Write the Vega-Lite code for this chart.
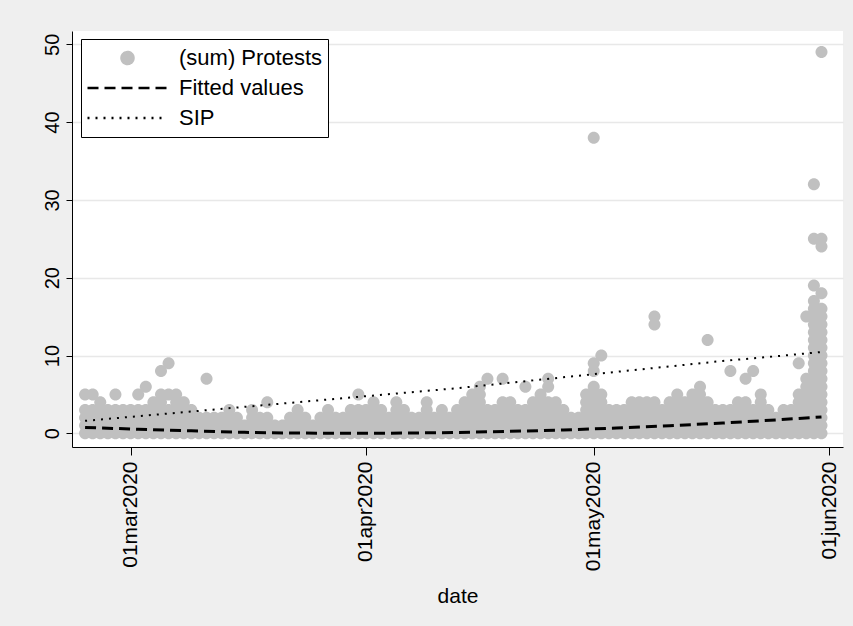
{
  "$schema": "https://vega.github.io/schema/vega-lite/v6.json",
  "autosize": {"type": "none"},
  "width": 771,
  "height": 416,
  "padding": {"left": 72, "top": 31, "right": 10, "bottom": 179},
  "background": "#efefef",
  "config": {
    "view": {"fill": "white", "stroke": null},
    "font": "Liberation Sans",
    "axis": {
      "domainColor": "black", "domainWidth": 1,
      "tickColor": "black", "tickWidth": 1,
      "labelColor": "black", "titleColor": "black",
      "labelFont": "Liberation Sans", "titleFont": "Liberation Sans",
      "labelFontSize": 20, "titleFontSize": 21, "titleFontWeight": "normal"
    }
  },
  "datasets": {
    "protests": [
      {"d":"2020-02-24","p":0},{"d":"2020-02-24","p":1},{"d":"2020-02-24","p":2},{"d":"2020-02-24","p":3},{"d":"2020-02-24","p":5},
      {"d":"2020-02-25","p":0},{"d":"2020-02-25","p":1},{"d":"2020-02-25","p":2},{"d":"2020-02-25","p":3},{"d":"2020-02-25","p":5},
      {"d":"2020-02-26","p":0},{"d":"2020-02-26","p":1},{"d":"2020-02-26","p":2},{"d":"2020-02-26","p":3},{"d":"2020-02-26","p":4},
      {"d":"2020-02-27","p":0},{"d":"2020-02-27","p":1},{"d":"2020-02-27","p":2},{"d":"2020-02-27","p":3},
      {"d":"2020-02-28","p":0},{"d":"2020-02-28","p":1},{"d":"2020-02-28","p":2},{"d":"2020-02-28","p":3},{"d":"2020-02-28","p":5},
      {"d":"2020-02-29","p":0},{"d":"2020-02-29","p":1},{"d":"2020-02-29","p":2},{"d":"2020-02-29","p":3},
      {"d":"2020-03-01","p":0},{"d":"2020-03-01","p":1},{"d":"2020-03-01","p":2},{"d":"2020-03-01","p":3},
      {"d":"2020-03-02","p":0},{"d":"2020-03-02","p":1},{"d":"2020-03-02","p":2},{"d":"2020-03-02","p":3},{"d":"2020-03-02","p":5},
      {"d":"2020-03-03","p":0},{"d":"2020-03-03","p":1},{"d":"2020-03-03","p":2},{"d":"2020-03-03","p":3},{"d":"2020-03-03","p":6},
      {"d":"2020-03-04","p":0},{"d":"2020-03-04","p":1},{"d":"2020-03-04","p":2},{"d":"2020-03-04","p":3},{"d":"2020-03-04","p":4},
      {"d":"2020-03-05","p":0},{"d":"2020-03-05","p":1},{"d":"2020-03-05","p":2},{"d":"2020-03-05","p":3},{"d":"2020-03-05","p":4},{"d":"2020-03-05","p":5},{"d":"2020-03-05","p":8},
      {"d":"2020-03-06","p":0},{"d":"2020-03-06","p":1},{"d":"2020-03-06","p":2},{"d":"2020-03-06","p":3},{"d":"2020-03-06","p":5},{"d":"2020-03-06","p":9},
      {"d":"2020-03-07","p":0},{"d":"2020-03-07","p":1},{"d":"2020-03-07","p":2},{"d":"2020-03-07","p":3},{"d":"2020-03-07","p":4},{"d":"2020-03-07","p":5},
      {"d":"2020-03-08","p":0},{"d":"2020-03-08","p":1},{"d":"2020-03-08","p":2},{"d":"2020-03-08","p":3},{"d":"2020-03-08","p":4},
      {"d":"2020-03-09","p":0},{"d":"2020-03-09","p":1},{"d":"2020-03-09","p":2},{"d":"2020-03-09","p":3},
      {"d":"2020-03-10","p":0},{"d":"2020-03-10","p":1},{"d":"2020-03-10","p":2},
      {"d":"2020-03-11","p":0},{"d":"2020-03-11","p":1},{"d":"2020-03-11","p":2},{"d":"2020-03-11","p":7},
      {"d":"2020-03-12","p":0},{"d":"2020-03-12","p":1},{"d":"2020-03-12","p":2},
      {"d":"2020-03-13","p":0},{"d":"2020-03-13","p":1},{"d":"2020-03-13","p":2},
      {"d":"2020-03-14","p":0},{"d":"2020-03-14","p":1},{"d":"2020-03-14","p":2},{"d":"2020-03-14","p":3},
      {"d":"2020-03-15","p":0},{"d":"2020-03-15","p":1},{"d":"2020-03-15","p":2},
      {"d":"2020-03-16","p":0},{"d":"2020-03-16","p":1},
      {"d":"2020-03-17","p":0},{"d":"2020-03-17","p":1},{"d":"2020-03-17","p":2},{"d":"2020-03-17","p":3},
      {"d":"2020-03-18","p":0},{"d":"2020-03-18","p":1},{"d":"2020-03-18","p":2},
      {"d":"2020-03-19","p":0},{"d":"2020-03-19","p":1},{"d":"2020-03-19","p":2},{"d":"2020-03-19","p":4},
      {"d":"2020-03-20","p":0},{"d":"2020-03-20","p":1},
      {"d":"2020-03-21","p":0},{"d":"2020-03-21","p":1},
      {"d":"2020-03-22","p":0},{"d":"2020-03-22","p":1},{"d":"2020-03-22","p":2},
      {"d":"2020-03-23","p":0},{"d":"2020-03-23","p":1},{"d":"2020-03-23","p":2},{"d":"2020-03-23","p":3},
      {"d":"2020-03-24","p":0},{"d":"2020-03-24","p":1},{"d":"2020-03-24","p":2},
      {"d":"2020-03-25","p":0},{"d":"2020-03-25","p":1},
      {"d":"2020-03-26","p":0},{"d":"2020-03-26","p":1},{"d":"2020-03-26","p":2},
      {"d":"2020-03-27","p":0},{"d":"2020-03-27","p":1},{"d":"2020-03-27","p":2},{"d":"2020-03-27","p":3},
      {"d":"2020-03-28","p":0},{"d":"2020-03-28","p":1},{"d":"2020-03-28","p":2},
      {"d":"2020-03-29","p":0},{"d":"2020-03-29","p":1},{"d":"2020-03-29","p":2},
      {"d":"2020-03-30","p":0},{"d":"2020-03-30","p":1},{"d":"2020-03-30","p":2},{"d":"2020-03-30","p":3},
      {"d":"2020-03-31","p":0},{"d":"2020-03-31","p":1},{"d":"2020-03-31","p":2},{"d":"2020-03-31","p":3},{"d":"2020-03-31","p":5},
      {"d":"2020-04-01","p":0},{"d":"2020-04-01","p":1},{"d":"2020-04-01","p":2},{"d":"2020-04-01","p":3},
      {"d":"2020-04-02","p":0},{"d":"2020-04-02","p":1},{"d":"2020-04-02","p":2},{"d":"2020-04-02","p":3},{"d":"2020-04-02","p":4},
      {"d":"2020-04-03","p":0},{"d":"2020-04-03","p":1},{"d":"2020-04-03","p":2},{"d":"2020-04-03","p":3},
      {"d":"2020-04-04","p":0},{"d":"2020-04-04","p":1},{"d":"2020-04-04","p":2},
      {"d":"2020-04-05","p":0},{"d":"2020-04-05","p":1},{"d":"2020-04-05","p":2},{"d":"2020-04-05","p":3},{"d":"2020-04-05","p":4},
      {"d":"2020-04-06","p":0},{"d":"2020-04-06","p":1},{"d":"2020-04-06","p":2},{"d":"2020-04-06","p":3},
      {"d":"2020-04-07","p":0},{"d":"2020-04-07","p":1},{"d":"2020-04-07","p":2},
      {"d":"2020-04-08","p":0},{"d":"2020-04-08","p":1},{"d":"2020-04-08","p":2},
      {"d":"2020-04-09","p":0},{"d":"2020-04-09","p":1},{"d":"2020-04-09","p":2},{"d":"2020-04-09","p":3},{"d":"2020-04-09","p":4},
      {"d":"2020-04-10","p":0},{"d":"2020-04-10","p":1},{"d":"2020-04-10","p":2},
      {"d":"2020-04-11","p":0},{"d":"2020-04-11","p":1},{"d":"2020-04-11","p":2},{"d":"2020-04-11","p":3},
      {"d":"2020-04-12","p":0},{"d":"2020-04-12","p":1},{"d":"2020-04-12","p":2},
      {"d":"2020-04-13","p":0},{"d":"2020-04-13","p":1},{"d":"2020-04-13","p":2},{"d":"2020-04-13","p":3},
      {"d":"2020-04-14","p":0},{"d":"2020-04-14","p":1},{"d":"2020-04-14","p":2},{"d":"2020-04-14","p":3},{"d":"2020-04-14","p":4},
      {"d":"2020-04-15","p":0},{"d":"2020-04-15","p":1},{"d":"2020-04-15","p":2},{"d":"2020-04-15","p":3},{"d":"2020-04-15","p":4},{"d":"2020-04-15","p":5},
      {"d":"2020-04-16","p":0},{"d":"2020-04-16","p":1},{"d":"2020-04-16","p":2},{"d":"2020-04-16","p":3},{"d":"2020-04-16","p":4},{"d":"2020-04-16","p":5},{"d":"2020-04-16","p":6},
      {"d":"2020-04-17","p":0},{"d":"2020-04-17","p":1},{"d":"2020-04-17","p":2},{"d":"2020-04-17","p":3},{"d":"2020-04-17","p":7},
      {"d":"2020-04-18","p":0},{"d":"2020-04-18","p":1},{"d":"2020-04-18","p":2},{"d":"2020-04-18","p":3},
      {"d":"2020-04-19","p":0},{"d":"2020-04-19","p":1},{"d":"2020-04-19","p":2},{"d":"2020-04-19","p":3},{"d":"2020-04-19","p":4},{"d":"2020-04-19","p":7},
      {"d":"2020-04-20","p":0},{"d":"2020-04-20","p":1},{"d":"2020-04-20","p":2},{"d":"2020-04-20","p":3},{"d":"2020-04-20","p":4},
      {"d":"2020-04-21","p":0},{"d":"2020-04-21","p":1},{"d":"2020-04-21","p":2},{"d":"2020-04-21","p":3},
      {"d":"2020-04-22","p":0},{"d":"2020-04-22","p":1},{"d":"2020-04-22","p":2},{"d":"2020-04-22","p":3},{"d":"2020-04-22","p":6},
      {"d":"2020-04-23","p":0},{"d":"2020-04-23","p":1},{"d":"2020-04-23","p":2},{"d":"2020-04-23","p":3},{"d":"2020-04-23","p":4},
      {"d":"2020-04-24","p":0},{"d":"2020-04-24","p":1},{"d":"2020-04-24","p":2},{"d":"2020-04-24","p":3},{"d":"2020-04-24","p":4},{"d":"2020-04-24","p":5},
      {"d":"2020-04-25","p":0},{"d":"2020-04-25","p":1},{"d":"2020-04-25","p":2},{"d":"2020-04-25","p":3},{"d":"2020-04-25","p":4},{"d":"2020-04-25","p":6},{"d":"2020-04-25","p":7},
      {"d":"2020-04-26","p":0},{"d":"2020-04-26","p":1},{"d":"2020-04-26","p":2},{"d":"2020-04-26","p":3},{"d":"2020-04-26","p":4},
      {"d":"2020-04-27","p":0},{"d":"2020-04-27","p":1},{"d":"2020-04-27","p":2},{"d":"2020-04-27","p":3},
      {"d":"2020-04-28","p":0},{"d":"2020-04-28","p":1},{"d":"2020-04-28","p":2},
      {"d":"2020-04-29","p":0},{"d":"2020-04-29","p":1},{"d":"2020-04-29","p":2},
      {"d":"2020-04-30","p":0},{"d":"2020-04-30","p":1},{"d":"2020-04-30","p":2},{"d":"2020-04-30","p":3},{"d":"2020-04-30","p":4},{"d":"2020-04-30","p":5},
      {"d":"2020-05-01","p":0},{"d":"2020-05-01","p":1},{"d":"2020-05-01","p":2},{"d":"2020-05-01","p":3},{"d":"2020-05-01","p":4},{"d":"2020-05-01","p":5},{"d":"2020-05-01","p":6},{"d":"2020-05-01","p":8},{"d":"2020-05-01","p":9},{"d":"2020-05-01","p":38},
      {"d":"2020-05-02","p":0},{"d":"2020-05-02","p":1},{"d":"2020-05-02","p":2},{"d":"2020-05-02","p":3},{"d":"2020-05-02","p":4},{"d":"2020-05-02","p":5},{"d":"2020-05-02","p":10},
      {"d":"2020-05-03","p":0},{"d":"2020-05-03","p":1},{"d":"2020-05-03","p":2},{"d":"2020-05-03","p":3},
      {"d":"2020-05-04","p":0},{"d":"2020-05-04","p":1},{"d":"2020-05-04","p":2},{"d":"2020-05-04","p":3},
      {"d":"2020-05-05","p":0},{"d":"2020-05-05","p":1},{"d":"2020-05-05","p":2},{"d":"2020-05-05","p":3},
      {"d":"2020-05-06","p":0},{"d":"2020-05-06","p":1},{"d":"2020-05-06","p":2},{"d":"2020-05-06","p":3},{"d":"2020-05-06","p":4},
      {"d":"2020-05-07","p":0},{"d":"2020-05-07","p":1},{"d":"2020-05-07","p":2},{"d":"2020-05-07","p":3},{"d":"2020-05-07","p":4},
      {"d":"2020-05-08","p":0},{"d":"2020-05-08","p":1},{"d":"2020-05-08","p":2},{"d":"2020-05-08","p":3},{"d":"2020-05-08","p":4},
      {"d":"2020-05-09","p":0},{"d":"2020-05-09","p":1},{"d":"2020-05-09","p":2},{"d":"2020-05-09","p":3},{"d":"2020-05-09","p":4},{"d":"2020-05-09","p":14},{"d":"2020-05-09","p":15},
      {"d":"2020-05-10","p":0},{"d":"2020-05-10","p":1},{"d":"2020-05-10","p":2},{"d":"2020-05-10","p":3},
      {"d":"2020-05-11","p":0},{"d":"2020-05-11","p":1},{"d":"2020-05-11","p":2},{"d":"2020-05-11","p":3},{"d":"2020-05-11","p":4},
      {"d":"2020-05-12","p":0},{"d":"2020-05-12","p":1},{"d":"2020-05-12","p":2},{"d":"2020-05-12","p":3},{"d":"2020-05-12","p":4},{"d":"2020-05-12","p":5},
      {"d":"2020-05-13","p":0},{"d":"2020-05-13","p":1},{"d":"2020-05-13","p":2},{"d":"2020-05-13","p":3},{"d":"2020-05-13","p":4},
      {"d":"2020-05-14","p":0},{"d":"2020-05-14","p":1},{"d":"2020-05-14","p":2},{"d":"2020-05-14","p":3},{"d":"2020-05-14","p":4},{"d":"2020-05-14","p":5},
      {"d":"2020-05-15","p":0},{"d":"2020-05-15","p":1},{"d":"2020-05-15","p":2},{"d":"2020-05-15","p":3},{"d":"2020-05-15","p":4},{"d":"2020-05-15","p":5},{"d":"2020-05-15","p":6},
      {"d":"2020-05-16","p":0},{"d":"2020-05-16","p":1},{"d":"2020-05-16","p":2},{"d":"2020-05-16","p":3},{"d":"2020-05-16","p":4},{"d":"2020-05-16","p":12},
      {"d":"2020-05-17","p":0},{"d":"2020-05-17","p":1},{"d":"2020-05-17","p":2},{"d":"2020-05-17","p":3},
      {"d":"2020-05-18","p":0},{"d":"2020-05-18","p":1},{"d":"2020-05-18","p":2},{"d":"2020-05-18","p":3},
      {"d":"2020-05-19","p":0},{"d":"2020-05-19","p":1},{"d":"2020-05-19","p":2},{"d":"2020-05-19","p":3},{"d":"2020-05-19","p":8},
      {"d":"2020-05-20","p":0},{"d":"2020-05-20","p":1},{"d":"2020-05-20","p":2},{"d":"2020-05-20","p":3},{"d":"2020-05-20","p":4},
      {"d":"2020-05-21","p":0},{"d":"2020-05-21","p":1},{"d":"2020-05-21","p":2},{"d":"2020-05-21","p":3},{"d":"2020-05-21","p":4},{"d":"2020-05-21","p":7},
      {"d":"2020-05-22","p":0},{"d":"2020-05-22","p":1},{"d":"2020-05-22","p":2},{"d":"2020-05-22","p":3},{"d":"2020-05-22","p":8},
      {"d":"2020-05-23","p":0},{"d":"2020-05-23","p":1},{"d":"2020-05-23","p":2},{"d":"2020-05-23","p":3},{"d":"2020-05-23","p":4},{"d":"2020-05-23","p":5},
      {"d":"2020-05-24","p":0},{"d":"2020-05-24","p":1},{"d":"2020-05-24","p":2},{"d":"2020-05-24","p":3},
      {"d":"2020-05-25","p":0},{"d":"2020-05-25","p":1},{"d":"2020-05-25","p":2},
      {"d":"2020-05-26","p":0},{"d":"2020-05-26","p":1},{"d":"2020-05-26","p":2},{"d":"2020-05-26","p":3},
      {"d":"2020-05-27","p":0},{"d":"2020-05-27","p":1},{"d":"2020-05-27","p":2},{"d":"2020-05-27","p":3},
      {"d":"2020-05-28","p":0},{"d":"2020-05-28","p":1},{"d":"2020-05-28","p":2},{"d":"2020-05-28","p":3},{"d":"2020-05-28","p":4},{"d":"2020-05-28","p":5},{"d":"2020-05-28","p":9},
      {"d":"2020-05-29","p":0},{"d":"2020-05-29","p":1},{"d":"2020-05-29","p":2},{"d":"2020-05-29","p":3},{"d":"2020-05-29","p":4},{"d":"2020-05-29","p":5},{"d":"2020-05-29","p":6},{"d":"2020-05-29","p":7},{"d":"2020-05-29","p":15},
      {"d":"2020-05-30","p":0},{"d":"2020-05-30","p":1},{"d":"2020-05-30","p":2},{"d":"2020-05-30","p":3},{"d":"2020-05-30","p":4},{"d":"2020-05-30","p":5},{"d":"2020-05-30","p":6},{"d":"2020-05-30","p":7},{"d":"2020-05-30","p":8},{"d":"2020-05-30","p":9},{"d":"2020-05-30","p":10},{"d":"2020-05-30","p":11},{"d":"2020-05-30","p":12},{"d":"2020-05-30","p":13},{"d":"2020-05-30","p":14},{"d":"2020-05-30","p":15},{"d":"2020-05-30","p":16},{"d":"2020-05-30","p":17},{"d":"2020-05-30","p":19},{"d":"2020-05-30","p":25},{"d":"2020-05-30","p":32},
      {"d":"2020-05-31","p":0},{"d":"2020-05-31","p":1},{"d":"2020-05-31","p":2},{"d":"2020-05-31","p":3},{"d":"2020-05-31","p":4},{"d":"2020-05-31","p":5},{"d":"2020-05-31","p":6},{"d":"2020-05-31","p":7},{"d":"2020-05-31","p":8},{"d":"2020-05-31","p":9},{"d":"2020-05-31","p":10},{"d":"2020-05-31","p":11},{"d":"2020-05-31","p":12},{"d":"2020-05-31","p":13},{"d":"2020-05-31","p":14},{"d":"2020-05-31","p":15},{"d":"2020-05-31","p":16},{"d":"2020-05-31","p":18},{"d":"2020-05-31","p":24},{"d":"2020-05-31","p":25},{"d":"2020-05-31","p":49}
    ],
    "fitted": [
      {"d":"2020-02-24","v":0.75},{"d":"2020-03-02","v":0.52},{"d":"2020-03-09","v":0.32},{"d":"2020-03-16","v":0.12},
      {"d":"2020-03-23","v":0.03},{"d":"2020-03-30","v":0.0},{"d":"2020-04-06","v":0.03},{"d":"2020-04-13","v":0.1},
      {"d":"2020-04-20","v":0.25},{"d":"2020-04-27","v":0.43},{"d":"2020-05-04","v":0.67},{"d":"2020-05-11","v":0.97},
      {"d":"2020-05-18","v":1.32},{"d":"2020-05-25","v":1.72},{"d":"2020-05-31","v":2.1}
    ],
    "sip": [
      {"d":"2020-02-24","v":1.6},{"d":"2020-03-02","v":2.2},{"d":"2020-03-09","v":2.8},{"d":"2020-03-16","v":3.4},
      {"d":"2020-03-23","v":4.0},{"d":"2020-03-30","v":4.6},{"d":"2020-04-06","v":5.2},{"d":"2020-04-13","v":5.8},
      {"d":"2020-04-20","v":6.5},{"d":"2020-04-27","v":7.2},{"d":"2020-05-04","v":7.9},{"d":"2020-05-11","v":8.6},
      {"d":"2020-05-18","v":9.3},{"d":"2020-05-25","v":9.9},{"d":"2020-05-31","v":10.45}
    ]
  },
  "encoding": {
    "x": {
      "field": "d", "type": "temporal",
      "scale": {"type": "utc", "domain": [
        {"year": 2020, "month": 2, "date": 22, "hours": 6, "minutes": 40, "utc": true},
        {"year": 2020, "month": 6, "date": 2, "hours": 20, "utc": true}
      ]},
      "axis": {
        "title": "date", "grid": false,
        "values": [
          {"year": 2020, "month": 3, "date": 1, "utc": true},
          {"year": 2020, "month": 4, "date": 1, "utc": true},
          {"year": 2020, "month": 5, "date": 1, "utc": true},
          {"year": 2020, "month": 6, "date": 1, "utc": true}
        ],
        "labelExpr": "lower(utcFormat(datum.value, '%d%b%Y'))",
        "labelFontSize": 21,
        "labelAngle": 270, "labelAlign": "right", "labelBaseline": "middle",
        "tickSize": 8, "labelPadding": 6, "labelFlush": false, "labelOverlap": false,
        "titleBaseline": "alphabetic", "titleY": 155
      }
    }
  },
  "layer": [
    {
      "data": {"name": "protests"},
      "mark": {"type": "point", "filled": true, "size": 6400, "opacity": 1},
      "encoding": {
        "y": {
          "field": "p", "type": "quantitative",
          "scale": {"domain": [-1.76, 51.71], "nice": false, "zero": false},
          "axis": {
            "title": null, "values": [0, 10, 20, 30, 40, 50],
            "grid": true, "gridColor": "#e8e8e8", "gridWidth": 1.5,
            "labelAngle": 270, "labelAlign": "center", "labelBaseline": "bottom",
            "tickSize": 6, "labelPadding": 4
          }
        },
        "color": {
          "datum": "(sum) Protests",
          "scale": {"domain": ["(sum) Protests", "Fitted values", "SIP"], "range": ["#c0c0c0", "black", "black"]},
          "legend": {
            "title": null, "orient": "none", "legendX": 9, "legendY": 8,
            "fillColor": "white", "strokeColor": "black",
            "padding": 5, "symbolSize": 6400, "symbolStrokeWidth": 2.5,
            "clipHeight": 28, "rowPadding": 2,
            "labelFont": "Liberation Sans", "labelFontSize": 22, "labelColor": "black",
            "labelOffset": 10, "labelLimit": 300
          }
        },
        "shape": {
          "datum": "(sum) Protests",
          "scale": {"domain": ["(sum) Protests", "Fitted values", "SIP"], "range": ["M0.15,0A0.15,0.15,0,1,1,-0.15,0A0.15,0.15,0,1,1,0.15,0Z", "stroke", "stroke"]}
        }
      }
    },
    {
      "data": {"name": "fitted"},
      "mark": {"type": "line", "strokeWidth": 3},
      "encoding": {
        "y": {"field": "v", "type": "quantitative"},
        "color": {"datum": "Fitted values"},
        "strokeDash": {
          "datum": "Fitted values",
          "scale": {"domain": ["(sum) Protests", "Fitted values", "SIP"], "range": [[1, 0], [11, 6], [2, 6]]}
        }
      }
    },
    {
      "data": {"name": "sip"},
      "mark": {"type": "line", "strokeWidth": 2},
      "encoding": {
        "y": {"field": "v", "type": "quantitative"},
        "color": {"datum": "SIP"},
        "strokeDash": {"datum": "SIP"}
      }
    }
  ]
}
